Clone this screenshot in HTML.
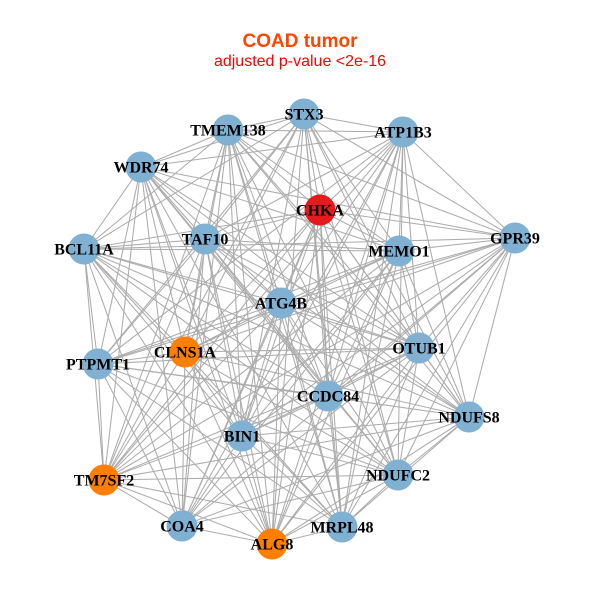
<!DOCTYPE html>
<html><head><meta charset="utf-8">
<style>
html,body{margin:0;padding:0;background:#fff;}
svg{display:block;}
.lbl{font-family:"Liberation Serif",serif;font-weight:bold;font-size:16px;fill:#000;}
</style></head>
<body>
<svg id="s" width="600" height="600" viewBox="0 0 600 600" xmlns="http://www.w3.org/2000/svg">
<rect width="600" height="600" fill="#fff"/>
<text x="300" y="47" text-anchor="middle" font-family="Liberation Sans, sans-serif" font-weight="bold" font-size="19" fill="#ff4500">COAD tumor</text>
<text x="300" y="66" text-anchor="middle" font-family="Liberation Sans, sans-serif" font-size="16" fill="#ff0000">adjusted p-value &lt;2e-16</text>
<g id="edges" stroke="#acacac" stroke-width="1.05" fill="none"></g>
<g id="nodes"></g>
<g id="labels"></g>
</svg>
<script>
var N=[
["STX3",304,114,"b"],["TMEM138",228,130,"b"],["ATP1B3",403,132,"b"],["WDR74",141,167,"b"],
["CHKA",320,210,"r"],["TAF10",205,239,"b"],["MEMO1",399,251,"b"],["GPR39",515,238,"b"],
["BCL11A",84,249,"b"],["ATG4B",281,303,"b"],["OTUB1",419,348,"b"],["CLNS1A",185,352,"o"],
["PTPMT1",98,364,"b"],["CCDC84",328,396,"b"],["NDUFS8",469,417,"b"],["BIN1",242,436,"b"],
["NDUFC2",398,475,"b"],["TM7SF2",104,480,"o"],["COA4",182,526,"b"],["ALG8",272,544,"o"],
["MRPL48",342,527,"b"]];
var col={b:"#80b1d3",r:"#e41a1c",o:"#ff7f00"};
var ns="http://www.w3.org/2000/svg";
var E=document.getElementById("edges"),G=document.getElementById("nodes"),L=document.getElementById("labels");
function h(i,j){var x=(i*73+j*151+i*j*37)%97;return x;}
for(var i=0;i<N.length;i++)for(var j=i+1;j<N.length;j++){
  if(h(i,j)<7)continue;
  var l=document.createElementNS(ns,"line");
  l.setAttribute("x1",N[i][1]);l.setAttribute("y1",N[i][2]);
  l.setAttribute("x2",N[j][1]);l.setAttribute("y2",N[j][2]);
  E.appendChild(l);
}
for(var i=0;i<N.length;i++){
  var c=document.createElementNS(ns,"circle");
  c.setAttribute("cx",N[i][1]);c.setAttribute("cy",N[i][2]);c.setAttribute("r",15.5);
  c.setAttribute("fill",col[N[i][3]]);G.appendChild(c);
  var t=document.createElementNS(ns,"text");
  t.setAttribute("x",N[i][1]);t.setAttribute("y",N[i][2]+5.5);
  t.setAttribute("text-anchor","middle");t.setAttribute("class","lbl");
  t.textContent=N[i][0];L.appendChild(t);
}
</script>
</body></html>
